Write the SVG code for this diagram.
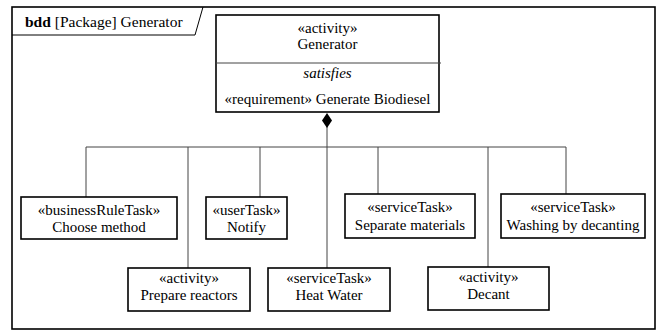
<svg xmlns="http://www.w3.org/2000/svg" width="660" height="331" viewBox="0 0 660 331">
<style>
text{font-size:15px;fill:#000;text-anchor:middle}
.box{fill:#fff;stroke:#000;stroke-width:1.6}
.ln{fill:none;stroke:#444;stroke-width:1}
</style>
<rect x="0" y="0" width="660" height="331" fill="#fff"/>
<g font-family="'Liberation Serif', 'DejaVu Serif', serif">
<g id="frame">
<rect x="12" y="7" width="643" height="322" fill="none" stroke="#000" stroke-width="1.6"/>
<path d="M12 35 H195 L203 7" fill="none" stroke="#000" stroke-width="1"/>
<text x="25" y="27" style="text-anchor:start;font-size:15.5px"><tspan font-weight="bold">bdd</tspan> [Package] Generator</text>
</g>
<g id="connectors">
<polyline class="ln" points="86,197 86,147 566,147 566,194"/>
<line class="ln" x1="188" y1="147" x2="188" y2="268"/>
<line class="ln" x1="260" y1="147" x2="260" y2="197"/>
<line class="ln" x1="327" y1="120" x2="327" y2="268"/>
<line class="ln" x1="378" y1="147" x2="378" y2="194"/>
<line class="ln" x1="488" y1="147" x2="488" y2="267"/>
<polygon points="327,113 332,120.5 327,128 322,120.5" fill="#000"/>
</g>
<g id="generator">
<rect class="box" x="216" y="15" width="223" height="97"/>
<line x1="216" y1="63" x2="441" y2="63" stroke="#444" stroke-width="1"/>
<text x="327.5" y="33">«activity»</text>
<text x="327.5" y="49">Generator</text>
<text x="327.5" y="78" font-style="italic">satisfies</text>
<text x="327.5" y="104">«requirement» Generate Biodiesel</text>
</g>
<g id="choose">
<rect class="box" x="21" y="197" width="156" height="42"/>
<text x="99" y="215">«businessRuleTask»</text>
<text x="99" y="232">Choose method</text>
</g>
<g id="notify">
<rect class="box" x="206" y="197" width="81" height="42"/>
<text x="246.5" y="215">«userTask»</text>
<text x="246.5" y="232">Notify</text>
</g>
<g id="separate">
<rect class="box" x="345" y="194" width="130" height="44"/>
<text x="410" y="212">«serviceTask»</text>
<text x="410" y="230">Separate materials</text>
</g>
<g id="washing">
<rect class="box" x="501" y="194" width="144" height="44"/>
<text x="573" y="212">«serviceTask»</text>
<text x="573" y="230">Washing by decanting</text>
</g>
<g id="prepare">
<rect class="box" x="128" y="268" width="122" height="43"/>
<text x="189" y="283">«activity»</text>
<text x="189" y="300">Prepare reactors</text>
</g>
<g id="heat">
<rect class="box" x="268" y="268" width="122" height="43"/>
<text x="329" y="283">«serviceTask»</text>
<text x="329" y="300">Heat Water</text>
</g>
<g id="decant">
<rect class="box" x="428" y="267" width="121" height="43"/>
<text x="488.5" y="282">«activity»</text>
<text x="488.5" y="299">Decant</text>
</g>
</g>
</svg>
